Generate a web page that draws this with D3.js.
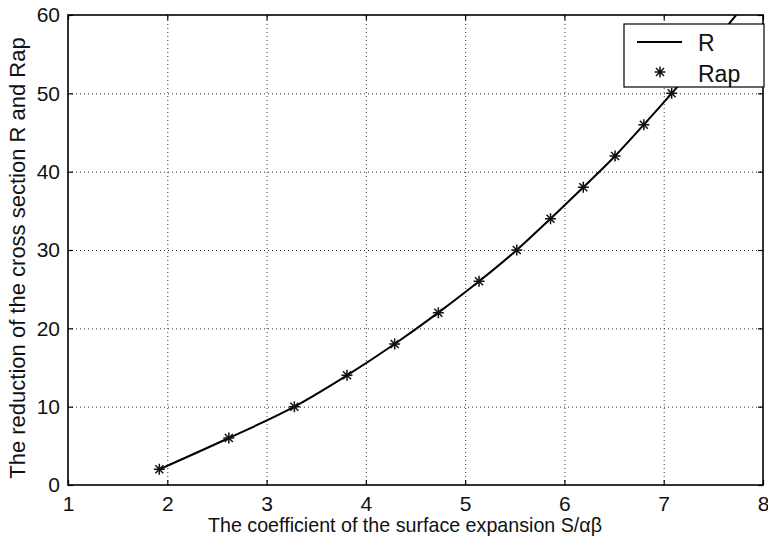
<!DOCTYPE html>
<html>
<head>
<meta charset="utf-8">
<script src="https://cdn.jsdelivr.net/npm/d3@7"></script>
<style>
  body { margin: 0; background: #fff; }
  svg { display: block; font-family: "Liberation Sans", Arial, sans-serif; }
  .grid line { stroke: #333; stroke-width: 1; stroke-dasharray: 1,3; }
  .grid path { display: none; }
  .axis path { display: none; }
  .axis line { stroke: #000; stroke-width: 1.2; }
  .axis text { font-size: 21px; fill: #111; }
  .axis-title { fill: #111; }
</style>
</head>
<body>
<svg class="chart"></svg>
<script>
const xTicks = [1, 2, 3, 4, 5, 6, 7, 8];
const yTicks = [0, 10, 20, 30, 40, 50, 60];

// Rap markers
const rapX = [1.92, 2.62, 3.28, 3.81, 4.29, 4.73, 5.14, 5.52, 5.86, 6.19, 6.51, 6.80, 7.08];
const rapY = [2, 6, 10, 14, 18, 22, 26, 30, 34, 38, 42, 46, 50];

// R curve, runs past the last marker up to the top edge
const rX = [1.92, 2.62, 3.28, 3.81, 4.29, 4.73, 5.14, 5.52, 5.86, 6.19, 6.51, 6.80, 7.08, 7.35, 7.60, 7.73];
const rY = [2, 6, 10, 14, 18, 22, 26, 30, 34, 38, 42, 46, 50, 54, 58, 60];

const legendLabels = ["R", "Rap"];

const margin = {top: 15, right: 5, bottom: 64, left: 68};
const width = 768 - margin.left - margin.right;
const height = 549 - margin.top - margin.bottom;

const x = d3.scaleLinear().domain([1, 8]).range([0, width]);
const y = d3.scaleLinear().domain([0, 60]).range([height, 0]);

const svg = d3.select(".chart")
    .attr("width", 768)
    .attr("height", 549);

const chart = svg.append("g")
    .attr("transform", "translate(" + margin.left + "," + margin.top + ")");

// dotted grid
chart.append("g")
    .attr("class", "grid")
    .attr("transform", "translate(0," + height + ")")
    .call(d3.axisBottom(x).tickValues(xTicks.slice(1, -1)).tickSize(-height).tickFormat(""));
chart.append("g")
    .attr("class", "grid")
    .call(d3.axisLeft(y).tickValues(yTicks.slice(1, -1)).tickSize(-width).tickFormat(""));

chart.append("clipPath").attr("id", "plot-clip")
  .append("rect").attr("width", width).attr("height", height);

// R line
const line = d3.line()
    .x((d, i) => x(rX[i]))
    .y((d, i) => y(rY[i]))
    .curve(d3.curveMonotoneX);

chart.append("path")
    .datum(rX)
    .attr("clip-path", "url(#plot-clip)")
    .attr("d", line)
    .attr("fill", "none")
    .attr("stroke", "#000")
    .attr("stroke-width", 2);

// Rap markers
const star = "M-5.5,0L5.5,0M0,-5.5L0,5.5M-4,-4L4,4M-4,4L4,-4";
chart.selectAll(".rap")
    .data(rapX)
  .enter().append("path")
    .attr("class", "rap")
    .attr("transform", (d, i) => "translate(" + x(d) + "," + y(rapY[i]) + ")")
    .attr("d", star)
    .attr("fill", "none")
    .attr("stroke", "#111")
    .attr("stroke-width", 1.5);

// axes, ticks pointing inward on all four sides
chart.append("g")
    .attr("class", "axis")
    .attr("transform", "translate(0," + height + ")")
    .call(d3.axisBottom(x).tickValues(xTicks).tickSize(-5).tickPadding(11).tickFormat(d3.format("d")));
chart.append("g")
    .attr("class", "axis")
    .call(d3.axisTop(x).tickValues(xTicks).tickSize(-5).tickFormat(""));
chart.append("g")
    .attr("class", "axis")
    .call(d3.axisLeft(y).tickValues(yTicks).tickSize(-5).tickPadding(8).tickFormat(d3.format("d")));
chart.append("g")
    .attr("class", "axis")
    .attr("transform", "translate(" + width + ",0)")
    .call(d3.axisRight(y).tickValues(yTicks).tickSize(-5).tickFormat(""));

// frame
chart.append("rect")
    .attr("width", width)
    .attr("height", height)
    .attr("fill", "none")
    .attr("stroke", "#000")
    .attr("stroke-width", 1.6);

// axis titles
svg.append("text")
    .attr("class", "axis-title")
    .attr("x", 208)
    .attr("y", 532)
    .attr("textLength", 394)
    .attr("lengthAdjust", "spacingAndGlyphs")
    .style("font-size", "21px")
    .text("The coefficient of the surface expansion S/\u03b1\u03b2");

svg.append("text")
    .attr("class", "axis-title")
    .attr("transform", "translate(25,258) rotate(-90)")
    .style("text-anchor", "middle")
    .style("font-size", "22px")
    .text("The reduction of the cross section R and Rap");

// legend
const legend = svg.append("g")
    .attr("transform", "translate(624,24)");
legend.append("rect")
    .attr("width", 140)
    .attr("height", 63)
    .attr("fill", "#fff")
    .attr("stroke", "#000")
    .attr("stroke-width", 1.2);
legend.append("line")
    .attr("x1", 13).attr("x2", 58)
    .attr("y1", 18).attr("y2", 18)
    .attr("stroke", "#000")
    .attr("stroke-width", 2);
legend.append("path")
    .attr("transform", "translate(36,48)")
    .attr("d", star)
    .attr("fill", "none")
    .attr("stroke", "#111")
    .attr("stroke-width", 1.5);
legend.selectAll(".legend-label")
    .data(legendLabels)
  .enter().append("text")
    .attr("class", "legend-label")
    .attr("x", 74)
    .attr("y", (d, i) => 27 + i * 31)
    .style("font-size", "23px")
    .style("fill", "#111")
    .text(d => d);
</script>
</body>
</html>
